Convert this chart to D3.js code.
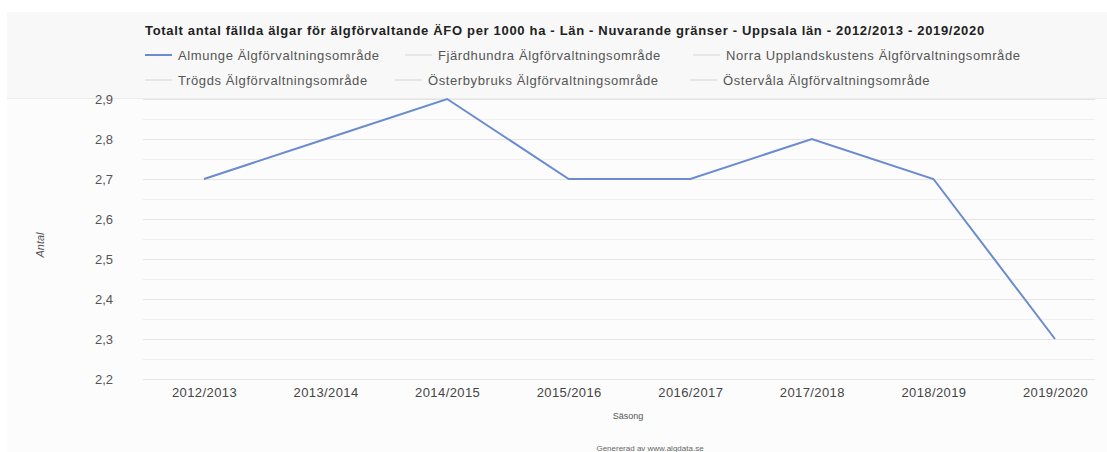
<!DOCTYPE html>
<html>
<head>
<meta charset="utf-8">
<script src="https://cdn.jsdelivr.net/npm/d3@7"></script>
<style>
  body { margin: 0; background: #fff; }
  text { font-family: "Liberation Sans", Arial, sans-serif; }
</style>
</head>
<body>
<div id="chart"></div>
<script>
// data
const seasons = ["2012/2013", "2013/2014", "2014/2015", "2015/2016", "2016/2017", "2017/2018", "2018/2019", "2019/2020"];
const almunge = [2.7, 2.8, 2.9, 2.7, 2.7, 2.8, 2.7, 2.3];
const yTicks = [2.2, 2.3, 2.4, 2.5, 2.6, 2.7, 2.8, 2.9];
const legendRow1 = ["Almunge Älgförvaltningsområde", "Fjärdhundra Älgförvaltningsområde", "Norra Upplandskustens Älgförvaltningsområde"];
const legendRow2 = ["Trögds Älgförvaltningsområde", "Österbybruks Älgförvaltningsområde", "Östervåla Älgförvaltningsområde"];
const title = "Totalt antal fällda älgar för älgförvaltande ÄFO per 1000 ha - Län - Nuvarande gränser - Uppsala län - 2012/2013 - 2019/2020";

const w = 1107, h = 452;

const svg = d3.select("#chart").append("svg")
    .attr("width", w)
    .attr("height", h);

// panel background
svg.append("rect")
    .attr("x", 7).attr("y", 12)
    .attr("width", w - 7).attr("height", h - 12)
    .attr("fill", "#fcfcfc");

// header area
svg.append("rect")
    .attr("x", 7).attr("y", 12)
    .attr("width", w - 7).attr("height", 86)
    .attr("fill", "#f8f8f8");
svg.append("line")
    .attr("x1", 7).attr("x2", w)
    .attr("y1", 98.5).attr("y2", 98.5)
    .attr("stroke", "#ececec");

// title
svg.append("text")
    .attr("x", 145).attr("y", 35)
    .text(title)
    .style("font-weight", "bold")
    .style("font-size", "13px")
    .style("letter-spacing", "0.68px")
    .style("fill", "#222");

// legend
const legendX = [145, 405, 693];
const legendX2 = [145, 395, 690];
const drawLegend = (items, xs, y, firstColored) => {
    items.forEach((name, i) => {
        const colored = firstColored && i === 0;
        svg.append("line")
            .attr("x1", xs[i]).attr("x2", xs[i] + 27)
            .attr("y1", y).attr("y2", y)
            .attr("stroke", colored ? "#6a8bd0" : "#d4d4d4")
            .attr("stroke-width", colored ? 2 : 1);
        svg.append("text")
            .attr("x", xs[i] + 33).attr("y", y + 4.5)
            .text(name)
            .style("font-size", "13px")
            .style("letter-spacing", "0.6px")
            .style("fill", "#555");
    });
};
drawLegend(legendRow1, legendX, 55, true);
drawLegend(legendRow2, legendX2, 80, false);

// scales
const xScale = d3.scalePoint()
    .domain(seasons)
    .range([204, 1055]);

const yScale = d3.scaleLinear()
    .domain([2.2, 2.9])
    .range([379, 99]);

// grid lines (major + minor)
const gridVals = d3.range(2.2, 2.9001, 0.05);
svg.append("g")
    .selectAll("line")
    .data(gridVals)
    .enter()
    .append("line")
    .attr("x1", 143).attr("x2", 1095)
    .attr("y1", d => Math.round(yScale(d)) + 0.5)
    .attr("y2", d => Math.round(yScale(d)) + 0.5)
    .attr("stroke", (d, i) => i % 2 === 0 ? "#e4e4e4" : "#f0f0f0");

// y axis
const fmt = d => d3.format(".1f")(d).replace(".", ",");
const yAxis = d3.axisLeft(yScale)
    .tickValues(yTicks)
    .tickFormat(fmt)
    .tickSize(0)
    .tickPadding(0);

const yAxisG = svg.append("g")
    .attr("transform", "translate(113,0)")
    .call(yAxis);
yAxisG.select(".domain").remove();
yAxisG.selectAll("text")
    .style("font-size", "13px")
    .style("fill", "#555")
    .style("font-family", "Liberation Sans, Arial, sans-serif");

// x axis
const xAxis = d3.axisBottom(xScale)
    .tickSize(0)
    .tickPadding(0);

const xAxisG = svg.append("g")
    .attr("transform", "translate(0,388)")
    .call(xAxis);
xAxisG.select(".domain").remove();
xAxisG.selectAll("text")
    .style("font-size", "13px")
    .style("letter-spacing", "0.4px")
    .style("fill", "#444")
    .style("font-family", "Liberation Sans, Arial, sans-serif");

// axis labels
svg.append("text")
    .attr("transform", "translate(44,245) rotate(-90)")
    .attr("text-anchor", "middle")
    .text("Antal")
    .style("font-size", "11px")
    .style("font-style", "italic")
    .style("fill", "#555");

svg.append("text")
    .attr("x", 628).attr("y", 419)
    .attr("text-anchor", "middle")
    .text("Säsong")
    .style("font-size", "9px")
    .style("fill", "#555");

svg.append("text")
    .attr("x", 650).attr("y", 451)
    .attr("text-anchor", "middle")
    .text("Genererad av www.algdata.se")
    .style("font-size", "8px")
    .style("fill", "#666");

// the line
const line = d3.line()
    .x((d, i) => xScale(seasons[i]))
    .y(d => yScale(d));

svg.append("path")
    .datum(almunge)
    .attr("d", line)
    .attr("fill", "none")
    .attr("stroke", "#6a8bd0")
    .attr("stroke-width", 2);
</script>
</body>
</html>
